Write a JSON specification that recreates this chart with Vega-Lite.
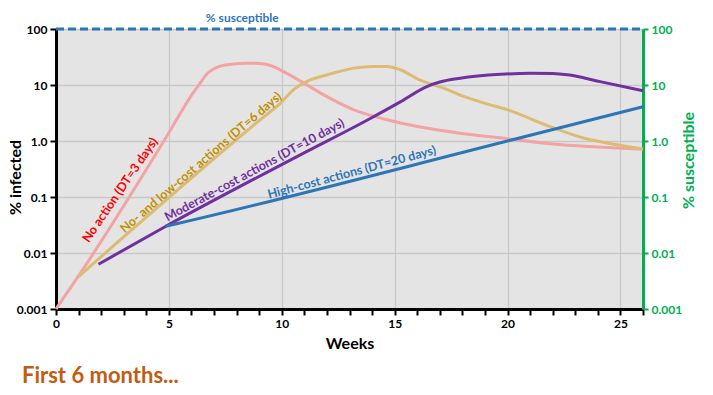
{
  "$schema": "https://vega.github.io/schema/vega-lite/v6.json",
  "width": 587,
  "height": 280,
  "autosize": {"type": "none"},
  "padding": {"left": 56, "top": 29, "right": 70, "bottom": 86},
  "background": "white",
  "config": {"view": {"stroke": null, "fill": "#E4E4E4"}, "font": "Lato"},
  "title": {
    "text": "First 6 months...",
    "orient": "bottom",
    "anchor": "start",
    "frame": "group",
    "dx": -34,
    "offset": 15,
    "color": "#C55A11",
    "fontSize": 22,
    "font": "Lato",
    "fontWeight": "bold"
  },
  "datasets": {
    "curves": [
      {"series": "No action", "week": 0, "pct": 0.001},
      {"series": "No action", "week": 1, "pct": 0.0039},
      {"series": "No action", "week": 4.9, "pct": 1.2},
      {"series": "No action", "week": 6.05, "pct": 7},
      {"series": "No action", "week": 6.4, "pct": 11},
      {"series": "No action", "week": 6.7, "pct": 16},
      {"series": "No action", "week": 7.1, "pct": 20.5},
      {"series": "No action", "week": 7.5, "pct": 22.8},
      {"series": "No action", "week": 8.4, "pct": 24.4},
      {"series": "No action", "week": 9.0, "pct": 24.3},
      {"series": "No action", "week": 9.5, "pct": 22.3},
      {"series": "No action", "week": 9.93, "pct": 18.6},
      {"series": "No action", "week": 10.5, "pct": 14},
      {"series": "No action", "week": 11.0, "pct": 10.7},
      {"series": "No action", "week": 12.0, "pct": 6.2},
      {"series": "No action", "week": 13.2, "pct": 3.6},
      {"series": "No action", "week": 14.66, "pct": 2.4},
      {"series": "No action", "week": 16.4, "pct": 1.7},
      {"series": "No action", "week": 17.9, "pct": 1.37},
      {"series": "No action", "week": 20.0, "pct": 1.1},
      {"series": "No action", "week": 22.0, "pct": 0.88},
      {"series": "No action", "week": 24.0, "pct": 0.78},
      {"series": "No action", "week": 26.0, "pct": 0.71},
      {"series": "Low-cost", "week": 1, "pct": 0.0038},
      {"series": "Low-cost", "week": 9.05, "pct": 2.4},
      {"series": "Low-cost", "week": 9.93, "pct": 4.7},
      {"series": "Low-cost", "week": 10.5, "pct": 8.1},
      {"series": "Low-cost", "week": 11.26, "pct": 12.3},
      {"series": "Low-cost", "week": 12.0, "pct": 15.1},
      {"series": "Low-cost", "week": 13.2, "pct": 20},
      {"series": "Low-cost", "week": 14.0, "pct": 21.5},
      {"series": "Low-cost", "week": 14.66, "pct": 21.5},
      {"series": "Low-cost", "week": 15.25, "pct": 18.7},
      {"series": "Low-cost", "week": 16.1, "pct": 12.3},
      {"series": "Low-cost", "week": 17.2, "pct": 8.7},
      {"series": "Low-cost", "week": 17.9, "pct": 6.6},
      {"series": "Low-cost", "week": 19.0, "pct": 4.7},
      {"series": "Low-cost", "week": 20.0, "pct": 3.6},
      {"series": "Low-cost", "week": 21.9, "pct": 1.8},
      {"series": "Low-cost", "week": 23.4, "pct": 1.12},
      {"series": "Low-cost", "week": 24.9, "pct": 0.85},
      {"series": "Low-cost", "week": 26.0, "pct": 0.72},
      {"series": "Moderate-cost", "week": 1.88, "pct": 0.0063},
      {"series": "Moderate-cost", "week": 4.83, "pct": 0.0295},
      {"series": "Moderate-cost", "week": 10.8, "pct": 0.56},
      {"series": "Moderate-cost", "week": 13.9, "pct": 2.5},
      {"series": "Moderate-cost", "week": 15.25, "pct": 5.0},
      {"series": "Moderate-cost", "week": 16.4, "pct": 9.3},
      {"series": "Moderate-cost", "week": 17.0, "pct": 11.3},
      {"series": "Moderate-cost", "week": 17.9, "pct": 13.2},
      {"series": "Moderate-cost", "week": 19.7, "pct": 15.5},
      {"series": "Moderate-cost", "week": 21.0, "pct": 16.2},
      {"series": "Moderate-cost", "week": 22.0, "pct": 16},
      {"series": "Moderate-cost", "week": 22.65, "pct": 15.2},
      {"series": "Moderate-cost", "week": 24.1, "pct": 11.5},
      {"series": "Moderate-cost", "week": 26.0, "pct": 7.9},
      {"series": "High-cost", "week": 4.85, "pct": 0.030},
      {"series": "High-cost", "week": 5.3, "pct": 0.033},
      {"series": "High-cost", "week": 20.0, "pct": 1.0},
      {"series": "High-cost", "week": 26.0, "pct": 4.1}
    ],
    "labels": [
      {"series": "No action", "label": "No action (DT=3 days)", "week": 2.84, "pct": 0.133},
      {"series": "Low-cost", "label": "No- and low-cost actions (DT=6 days)", "week": 6.42, "pct": 0.413},
      {"series": "Moderate-cost", "label": "Moderate-cost actions (DT=10 days)", "week": 8.79, "pct": 0.303},
      {"series": "High-cost", "label": "High-cost actions (DT=20 days)", "week": 13.1, "pct": 0.274},
      {"series": "Susceptible", "label": "% susceptible", "week": 8.25, "pct": 100}
    ],
    "susceptible": [
      {"series": "Susceptible", "week": 0, "pct": 100},
      {"series": "Susceptible", "week": 26, "pct": 100}
    ]
  },
  "encoding": {
    "x": {
      "field": "week",
      "type": "quantitative",
      "scale": {"domain": [0, 26], "nice": false, "zero": false},
      "axis": {
        "title": "Weeks",
        "values": [0,1,2,3,4,5,6,7,8,9,10,11,12,13,14,15,16,17,18,19,20,21,22,23,24,25,26],
        "labelExpr": "datum.value % 5 === 0 ? datum.label : ''",
        "labelOverlap": false,
        "labelFlush": false,
        "grid": true,
        "gridColor": {"condition": {"test": "datum.value % 5 === 0 && datum.value > 0", "value": "#C8C8C8"}, "value": "transparent"},
        "gridWidth": 1.3,
        "domainColor": "black",
        "domainWidth": 3,
        "tickColor": "black",
        "tickWidth": 2,
        "tickSize": 6,
        "labelFontSize": 12,
        "labelFontWeight": "bold",
        "labelColor": "black",
        "labelPadding": 3,
        "titleFontSize": 16,
        "titleFontWeight": "bold",
        "titleColor": "black",
        "titlePadding": 6
      }
    }
  },
  "layer": [
    {
      "layer": [
        {
          "data": {"name": "curves"},
          "mark": {"type": "line", "strokeWidth": 3, "interpolate": "monotone"},
          "encoding": {
            "y": {
              "field": "pct",
              "type": "quantitative",
              "scale": {"type": "log", "domain": [0.001, 100], "nice": false},
              "axis": {
                "title": "% infected",
                "values": [0.001, 0.01, 0.1, 1, 10, 100],
                "labelExpr": "datum.value === 1 ? '1.0' : format(datum.value, '~f')",
                "grid": true,
                "gridColor": "#C8C8C8",
                "gridWidth": 1.3,
                "domainColor": "black",
                "domainWidth": 3,
                "tickColor": "black",
                "tickWidth": 2,
                "tickSize": 6,
                "labelFontSize": 12,
                "labelFontWeight": "bold",
                "labelColor": "black",
                "labelPadding": 3,
                "titleFontSize": 16,
                "titleFontWeight": "bold",
                "titleColor": "black",
                "titleX": -41,
                "titleY": 148,
                "titleAlign": "center",
                "titleBaseline": "middle",
                "titleAngle": -90
              }
            },
            "color": {
              "field": "series",
              "type": "nominal",
              "scale": {
                "domain": ["No action", "Low-cost", "Moderate-cost", "High-cost"],
                "range": ["#F4A3A3", "#DCBC72", "#7030A0", "#2E75B6"]
              },
              "legend": null
            }
          }
        },
        {
          "data": {"name": "labels"},
          "transform": [{"filter": "datum.series === 'No action'"}],
          "mark": {"type": "text", "angle": -55.7, "color": "#FF0000", "fontSize": 12.5, "fontWeight": "bold", "align": "center", "baseline": "middle"},
          "encoding": {
            "y": {"field": "pct", "type": "quantitative"},
            "text": {"field": "label"}
          }
        },
        {
          "data": {"name": "labels"},
          "transform": [{"filter": "datum.series === 'Low-cost'"}],
          "mark": {"type": "text", "angle": -40.7, "color": "#BF9000", "fontSize": 12.5, "fontWeight": "bold", "align": "center", "baseline": "middle"},
          "encoding": {
            "y": {"field": "pct", "type": "quantitative"},
            "text": {"field": "label"}
          }
        },
        {
          "data": {"name": "labels"},
          "transform": [{"filter": "datum.series === 'Moderate-cost'"}],
          "mark": {"type": "text", "angle": -28.4, "color": "#7030A0", "fontSize": 12.5, "fontWeight": "bold", "align": "center", "baseline": "middle"},
          "encoding": {
            "y": {"field": "pct", "type": "quantitative"},
            "text": {"field": "label"}
          }
        },
        {
          "data": {"name": "labels"},
          "transform": [{"filter": "datum.series === 'High-cost'"}],
          "mark": {"type": "text", "angle": -15, "color": "#2E75B6", "fontSize": 12.5, "fontWeight": "bold", "align": "center", "baseline": "middle"},
          "encoding": {
            "y": {"field": "pct", "type": "quantitative"},
            "text": {"field": "label"}
          }
        }
      ]
    },
    {
      "layer": [
        {
          "data": {"name": "susceptible"},
          "mark": {"type": "line", "strokeWidth": 3, "strokeDash": [8, 4], "color": "#2E75B6"},
          "encoding": {
            "y": {
              "field": "pct",
              "type": "quantitative",
              "scale": {"type": "log", "domain": [0.001, 100], "nice": false},
              "axis": {
                "orient": "right",
                "title": "% susceptible",
                "values": [0.001, 0.01, 0.1, 1, 10, 100],
                "labelExpr": "datum.value === 1 ? '1.0' : format(datum.value, '~f')",
                "grid": false,
                "domainColor": "#00B050",
                "domainWidth": 3,
                "tickColor": "#00B050",
                "tickWidth": 2,
                "tickSize": 5,
                "labelFontSize": 12,
                "labelFontWeight": "bold",
                "labelColor": "#00B050",
                "labelPadding": 3,
                "titleFontSize": 16,
                "titleFontWeight": "bold",
                "titleColor": "#00B050",
                "titleX": 45,
                "titleY": 131,
                "titleAlign": "center",
                "titleBaseline": "middle",
                "titleAngle": -90
              }
            }
          }
        },
        {
          "data": {"name": "labels"},
          "transform": [{"filter": "datum.series === 'Susceptible'"}],
          "mark": {"type": "text", "dy": -11, "color": "#2E75B6", "fontSize": 12, "fontWeight": "bold", "align": "center", "baseline": "middle"},
          "encoding": {
            "y": {"field": "pct", "type": "quantitative"},
            "text": {"field": "label"}
          }
        }
      ]
    }
  ],
  "resolve": {"scale": {"y": "independent"}}
}
